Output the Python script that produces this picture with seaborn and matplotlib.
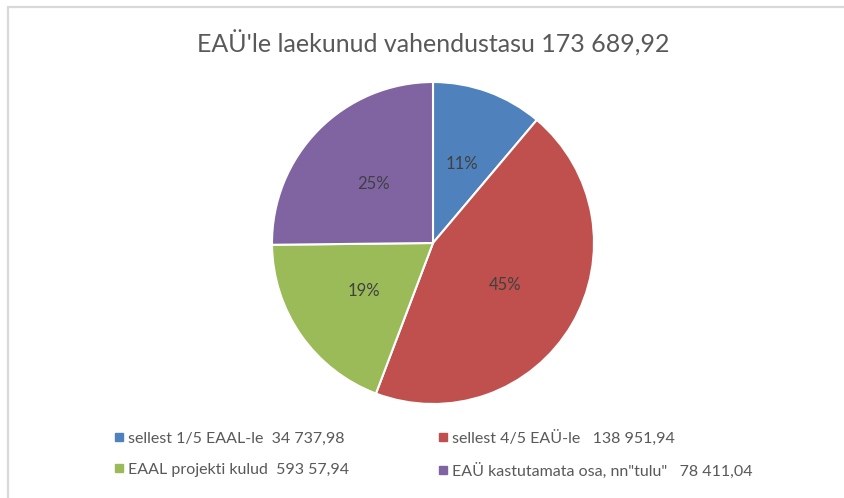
import matplotlib
matplotlib.use("Agg")
import matplotlib.pyplot as plt
from matplotlib.patches import Rectangle
from matplotlib.lines import Line2D
import seaborn as sns

# Data
title = "EAÜ'le laekunud vahendustasu 173 689,92"
categories = ["sellest 1/5 EAAL-le  34 737,98",
              "sellest 4/5 EAÜ-le   138 951,94",
              "EAAL projekti kulud  593 57,94",
              "EAÜ kastutamata osa, nn\"tulu\"   78 411,04"]
values = [34737.98, 138951.94, 59357.94, 78411.04]
colors = ["#4F81BD", "#C0504D", "#9BBB59", "#8064A2"]

sns.set_theme(style="white")
plt.rcParams['font.family'] = ['Lato', 'DejaVu Sans']

W, H = 845, 498
fig = plt.figure(figsize=(W / 100, H / 100), dpi=100)
fig.patch.set_facecolor("white")

# frame of the chart area (only top/left visible)
fig.add_artist(Rectangle((8.5 / W, -0.1), 1.2, 1.1 - 7.5 / H,
                         transform=fig.transFigure, fill=False,
                         edgecolor="#D9D9D9", linewidth=1.6))

cx, cy, r = 433, 243, 161
ax = fig.add_axes([(cx - r) / W, (H - cy - r) / H, 2 * r / W, 2 * r / H])
wedges, texts, autotexts = ax.pie(
    values, colors=colors, startangle=90, counterclock=False,
    autopct=lambda p: f"{p:.0f}%", pctdistance=0.52,
    wedgeprops=dict(edgecolor="white", linewidth=1.5),
    textprops=dict(color="#404040", fontsize=12))
ax.set_xlim(-1, 1)
ax.set_ylim(-1, 1)
ax.set_aspect("equal")

fig.text(cx / W, 1 - 43 / H, title, ha="center", va="center",
         fontsize=18, color="#595959")

def make_handle(c):
    return Line2D([], [], marker="s", linestyle="none", markersize=6,
                  markerfacecolor=c, markeredgecolor=c)

columns = [([0, 2], 100), ([1, 3], 424)]
for idx, xpos in columns:
    fig.legend([make_handle(colors[i]) for i in idx],
               [categories[i] for i in idx],
               loc="center left", bbox_to_anchor=(xpos / W, 1 - 454 / H),
               frameon=False, prop=dict(size=11.5),
               handletextpad=0.05, handlelength=1.0, labelspacing=1.05,
               labelcolor="#595959", borderpad=0.2)

fig.savefig("out.png", dpi=100, facecolor="white")
